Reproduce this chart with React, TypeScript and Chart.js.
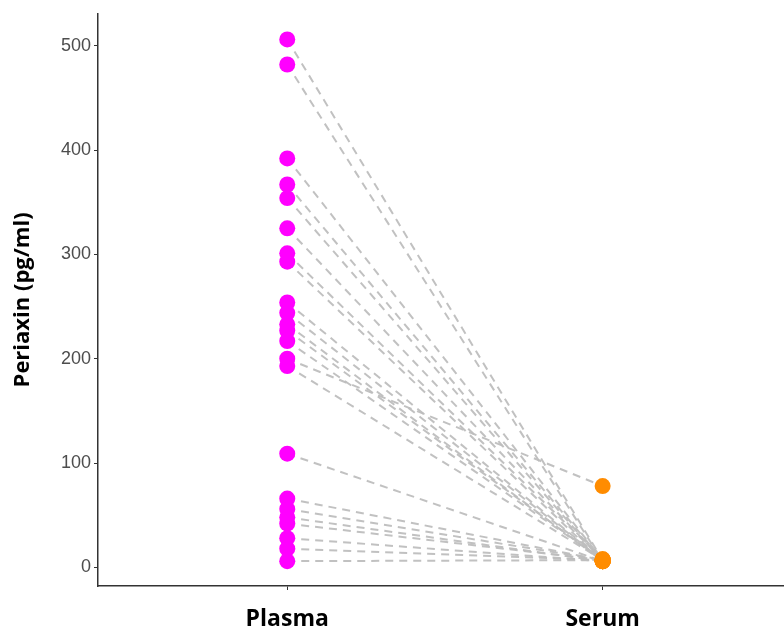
import React, { useEffect, useRef } from "react";
import { Chart, registerables } from "chart.js";

Chart.register(...registerables);

const categories = ["Plasma", "Serum"];
const plasmaValues = [506, 482, 392, 367, 354, 325, 301, 293, 254, 244, 233, 227, 217, 200, 193, 109, 66, 56, 48, 42, 28, 18, 6];
const serumValues = [7, 6, 7, 7, 6, 7, 8, 6, 7, 7, 6, 7, 7, 78, 7, 6, 7, 7, 6, 7, 6, 7, 7];
const yTicks = [0, 100, 200, 300, 400, 500];

export default function App() {
  const ref = useRef<HTMLCanvasElement | null>(null);

  useEffect(() => {
    if (!ref.current) return;
    const lineSets = plasmaValues.map((p, i) => ({
      type: "scatter" as const,
      data: [
        { x: 1, y: p },
        { x: 2, y: serumValues[i] },
      ],
      showLine: true,
      borderColor: "rgba(190,190,190,0.95)",
      borderWidth: 2,
      borderDash: [8, 6],
      pointRadius: 0,
      order: 2,
    }));
    const chart = new Chart(ref.current, {
      type: "scatter",
      data: {
        datasets: [
          {
            data: plasmaValues.map((v) => ({ x: 1, y: v })),
            backgroundColor: "#FF00FF",
            borderColor: "#FF00FF",
            pointRadius: 8,
            borderWidth: 0,
            order: 0,
          },
          {
            data: serumValues.map((v) => ({ x: 2, y: v })),
            backgroundColor: "#FF8C00",
            borderColor: "#FF8C00",
            pointRadius: 8,
            borderWidth: 0,
            order: 0,
          },
          ...lineSets,
        ] as any,
      },
      options: {
        animation: false,
        responsive: false,
        layout: { autoPadding: false, padding: { left: 0, right: 0, top: 12, bottom: 0 } },
        plugins: { legend: { display: false }, tooltip: { enabled: false } },
        scales: {
          x: {
            type: "linear",
            min: 0.4,
            max: 2.575,
            afterBuildTicks: (scale: any) => {
              scale.ticks = categories.map((_, i) => ({ value: i + 1 }));
            },
            afterFit: (scale: any) => {
              scale.height = 44;
              scale.paddingLeft = 0;
              scale.paddingRight = 0;
            },
            ticks: {
              callback: (v: any) => categories[Number(v) - 1] ?? "",
              color: "#000",
              font: { family: "'Open Sans', 'Liberation Sans', sans-serif", size: 23, weight: "bold" },
              padding: 16,
              maxRotation: 0,
            },
            grid: { drawOnChartArea: false, drawTicks: true, tickLength: 4, color: "#333" },
            border: { display: true, color: "#333", width: 1.5 },
          },
          y: {
            min: -17.8,
            max: 530.6,
            afterBuildTicks: (scale: any) => {
              scale.ticks = yTicks.map((v) => ({ value: v }));
            },
            afterFit: (scale: any) => {
              scale.width = 98;
            },
            ticks: {
              color: "#4d4d4d",
              font: { family: "'Liberation Sans', Arial, sans-serif", size: 18 },
              padding: 3,
            },
            title: {
              display: true,
              text: "Periaxin (pg/ml)",
              color: "#000",
              font: { family: "'Open Sans', 'Liberation Sans', sans-serif", size: 22, weight: "bold" },
              padding: { top: 10, bottom: 0 },
            },
            grid: { drawOnChartArea: false, drawTicks: true, tickLength: 4, color: "#333" },
            border: { display: true, color: "#333", width: 1.5 },
          },
        },
      },
    });
    return () => chart.destroy();
  }, []);

  return (
    <div style={{ position: "fixed", left: 0, top: 0, width: 784, height: 630, background: "#fff" }}>
      <canvas ref={ref} width={784} height={630} />
    </div>
  );
}
